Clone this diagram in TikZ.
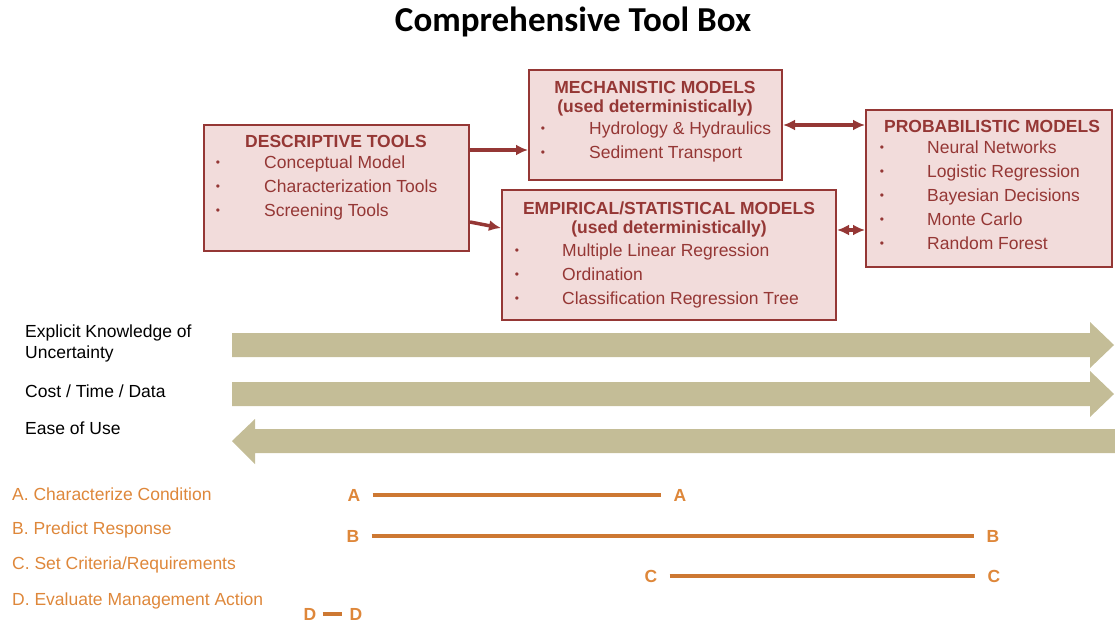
\documentclass[tikz,border=0pt]{standalone}
\usepackage{fontspec}
\setmainfont{Liberation Sans}
\newfontfamily\titlefont{Carlito}
\usetikzlibrary{arrows.meta}

\definecolor{boxred}{RGB}{149,55,53}
\definecolor{boxfill}{RGB}{242,220,219}
\definecolor{bandtan}{RGB}{196,189,151}
\definecolor{casetext}{RGB}{222,135,58}
\definecolor{caseline}{RGB}{205,120,50}

\begin{document}
\begin{tikzpicture}[x=1pt,y=-1pt,
  tbox/.style={draw=boxred, line width=2pt, fill=boxfill, inner sep=0pt},
  boxhead/.style={text=boxred, font=\fontsize{17.5}{21}\selectfont\bfseries, inner sep=0pt},
  boxitem/.style={text=boxred, font=\fontsize{17.5}{21}\selectfont, anchor=west, inner sep=0pt,
    text height=12.5pt, text depth=3.5pt},
  bul/.style={text=boxred, font=\fontsize{12}{14}\selectfont, inner sep=0pt},
  conn/.style={draw=boxred, line width=3.5pt, -{Latex[length=12pt,width=11pt]}},
  band/.style={fill=bandtan},
  sidelabel/.style={font=\fontsize{17.5}{21}\selectfont, anchor=west, inner sep=0pt},
  caselabel/.style={text=casetext, font=\fontsize{17.5}{21}\selectfont, anchor=west, inner sep=0pt},
  casemark/.style={text=casetext, font=\fontsize{17.5}{21}\selectfont\bfseries, inner ysep=0pt, inner xsep=12pt},
  caseline/.style={draw=caseline, line width=4pt}]

\useasboundingbox (0,0) rectangle (1115,626);

% title
\node (title) at (573,22) {\titlefont\fontsize{35}{40}\selectfont\bfseries Comprehensive Tool Box};

% the four boxes
\node[tbox, minimum width=265pt, minimum height=126pt] (desc) at (336.5,188) {};
\node[tbox, minimum width=253pt, minimum height=110pt] (mech) at (655.5,125) {};
\node[tbox, minimum width=334pt, minimum height=130pt] (emp) at (669,255) {};
\node[tbox, minimum width=246pt, minimum height=157pt] (prob) at (989,188.5) {};

\node[boxhead] (deschead) at (336,141) {DESCRIPTIVE TOOLS};
\foreach \t [count=\i] in {Conceptual Model, Characterization Tools, Screening Tools} {
  \node[bul] (db-\i) at (218,{164+24*(\i-1)}) {•};
  \node[boxitem] (di-\i) at (264,{164+24*(\i-1)}) {\t};
}

\node[boxhead] (mechhead) at (655,87) {MECHANISTIC MODELS};
\node[boxhead] (mechsub) at (655,108) {(used deterministically)};
\foreach \t [count=\i] in {Hydrology \& Hydraulics, Sediment Transport} {
  \node[bul] (mb-\i) at (543,{130+24*(\i-1)}) {•};
  \node[boxitem] (mi-\i) at (589,{130+24*(\i-1)}) {\t};
}

\node[boxhead] (emphead) at (669,208) {EMPIRICAL/STATISTICAL MODELS};
\node[boxhead] (empsub) at (669,229) {(used deterministically)};
\foreach \t [count=\i] in {Multiple Linear Regression, Ordination, Classification Regression Tree} {
  \node[bul] (eb-\i) at (517,{252+24*(\i-1)}) {•};
  \node[boxitem] (ei-\i) at (562,{252+24*(\i-1)}) {\t};
}

\node[boxhead] (probhead) at (992,126) {PROBABILISTIC MODELS};
\foreach \t [count=\i] in {Neural Networks, Logistic Regression, Bayesian Decisions, Monte Carlo, Random Forest} {
  \node[bul] (pb-\i) at (882,{149+24*(\i-1)}) {•};
  \node[boxitem] (pi-\i) at (927,{149+24*(\i-1)}) {\t};
}

% connectors
\draw[conn] (desc.east |- 0,150) -- (mech.west |- 0,150);
\draw[conn] (desc.east |- 0,222) -- (emp.west |- 0,228);
\draw[conn, {Latex[length=12pt,width=11pt]}-{Latex[length=12pt,width=11pt]}] (mech.east |- 0,125) -- (prob.west |- 0,125);
\draw[conn, {Latex[length=12pt,width=11pt]}-{Latex[length=12pt,width=11pt]}] (emp.east |- 0,230) -- (prob.west |- 0,230);

% trend bands
\fill[band] (232,333) -- (1090,333) -- (1090,322) -- (1114,345) -- (1090,368) -- (1090,357) -- (232,357) -- cycle;
\fill[band] (232,382) -- (1090,382) -- (1090,371) -- (1114,394) -- (1090,417) -- (1090,406) -- (232,406) -- cycle;
\fill[band] (1115,429) -- (255,429) -- (255,419) -- (232,441) -- (255,464) -- (255,453) -- (1115,453) -- cycle;

\node[sidelabel] (unc1) at (25,333) {Explicit Knowledge of};
\node[sidelabel] (unc2) at (25,354) {Uncertainty};
\node[sidelabel] (cost) at (25,391) {Cost / Time / Data};
\node[sidelabel] (ease) at (25,428) {Ease of Use};

% applications
\node[caselabel] (ca) at (12,494) {A. Characterize Condition};
\node[caselabel] (cb) at (12,530) {B. Predict Response};
\node[caselabel] (cc) at (12,565) {C. Set Criteria/Requirements};
\node[caselabel] (cd) at (12,601) {D. Evaluate Management Action};

\node[casemark] (a1) at (354,495) {A};
\node[casemark] (a2) at (680,495) {A};
\node[casemark] (b1) at (353,536) {B};
\node[casemark] (b2) at (993,536) {B};
\node[casemark] (c1) at (651,576) {C};
\node[casemark] (c2) at (994,576) {C};
\node[casemark, inner xsep=6pt] (d1) at (310,614) {D};
\node[casemark, inner xsep=7pt] (d2) at (356,614) {D};

\draw[caseline] (a1) -- (a2);
\draw[caseline] (b1) -- (b2);
\draw[caseline] (c1) -- (c2);
\draw[caseline] (d1) -- (d2);

\end{tikzpicture}
\end{document}
